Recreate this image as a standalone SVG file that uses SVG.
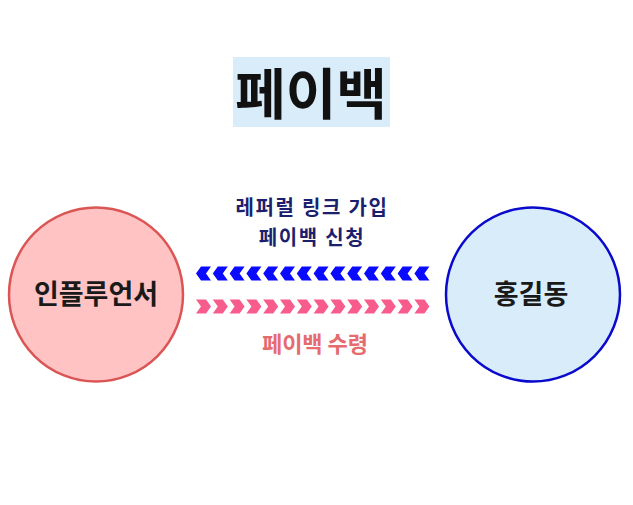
<svg xmlns="http://www.w3.org/2000/svg" xmlns:xlink="http://www.w3.org/1999/xlink" width="633" height="505" viewBox="0 0 633 505">
<style>
  .kr { font-family: "Noto Sans CJK KR", "Noto Sans", sans-serif; font-weight: bold; text-anchor: middle; }
  .title { font-size: 55px; fill: #111111; }
  .node-label { font-size: 27px; fill: #1a1a1a; }
  .edge-label-blue { font-size: 20px; letter-spacing: 1.7px; fill: #1b1f6e; }
  .edge-label-red { font-size: 22px; fill: #e56b6f; }
</style>
<defs>
  <polygon id="chev-left" points="0,7 5,0 15,0 10,7 15,14 5,14" fill="#0a0aff"/>
  <polygon id="chev-right" points="0,0 10,0 15,7 10,14 0,14 5,7" fill="#f75c8d"/>
</defs>
<rect width="633" height="505" fill="#ffffff"/>
<g id="title">
  <rect x="233" y="57" width="157" height="70" fill="#d9ecf9"/>
  <text class="kr title" x="311" y="114">페이백</text>
</g>
<g id="influencer">
  <circle cx="96" cy="294.5" r="87" fill="#ffc3c3" stroke="#dc5555" stroke-width="2.5"/>
  <text class="kr node-label" x="96" y="304">인플루언서</text>
</g>
<g id="hong">
  <circle cx="533" cy="294.5" r="87" fill="#d9ecf9" stroke="#0a0acc" stroke-width="2.5"/>
  <text class="kr node-label" x="531" y="304">홍길동</text>
</g>
<g id="connectors">
  <g id="arrow-left">
    <use xlink:href="#chev-left" x="196" y="266.5"/>
    <use xlink:href="#chev-left" x="212.8" y="266.5"/>
    <use xlink:href="#chev-left" x="229.6" y="266.5"/>
    <use xlink:href="#chev-left" x="246.4" y="266.5"/>
    <use xlink:href="#chev-left" x="263.2" y="266.5"/>
    <use xlink:href="#chev-left" x="280" y="266.5"/>
    <use xlink:href="#chev-left" x="296.8" y="266.5"/>
    <use xlink:href="#chev-left" x="313.6" y="266.5"/>
    <use xlink:href="#chev-left" x="330.4" y="266.5"/>
    <use xlink:href="#chev-left" x="347.2" y="266.5"/>
    <use xlink:href="#chev-left" x="364" y="266.5"/>
    <use xlink:href="#chev-left" x="380.8" y="266.5"/>
    <use xlink:href="#chev-left" x="397.6" y="266.5"/>
    <use xlink:href="#chev-left" x="414.4" y="266.5"/>
  </g>
  <g id="arrow-right">
    <use xlink:href="#chev-right" x="196" y="299.5"/>
    <use xlink:href="#chev-right" x="212.8" y="299.5"/>
    <use xlink:href="#chev-right" x="229.6" y="299.5"/>
    <use xlink:href="#chev-right" x="246.4" y="299.5"/>
    <use xlink:href="#chev-right" x="263.2" y="299.5"/>
    <use xlink:href="#chev-right" x="280" y="299.5"/>
    <use xlink:href="#chev-right" x="296.8" y="299.5"/>
    <use xlink:href="#chev-right" x="313.6" y="299.5"/>
    <use xlink:href="#chev-right" x="330.4" y="299.5"/>
    <use xlink:href="#chev-right" x="347.2" y="299.5"/>
    <use xlink:href="#chev-right" x="364" y="299.5"/>
    <use xlink:href="#chev-right" x="380.8" y="299.5"/>
    <use xlink:href="#chev-right" x="397.6" y="299.5"/>
    <use xlink:href="#chev-right" x="414.4" y="299.5"/>
  </g>
  <text class="kr edge-label-blue" x="312" y="215">레퍼럴 링크 가입</text>
  <text class="kr edge-label-blue" x="312" y="244.5">페이백 신청</text>
  <text class="kr edge-label-red" x="315" y="352">페이백 수령</text>
</g>
</svg>
